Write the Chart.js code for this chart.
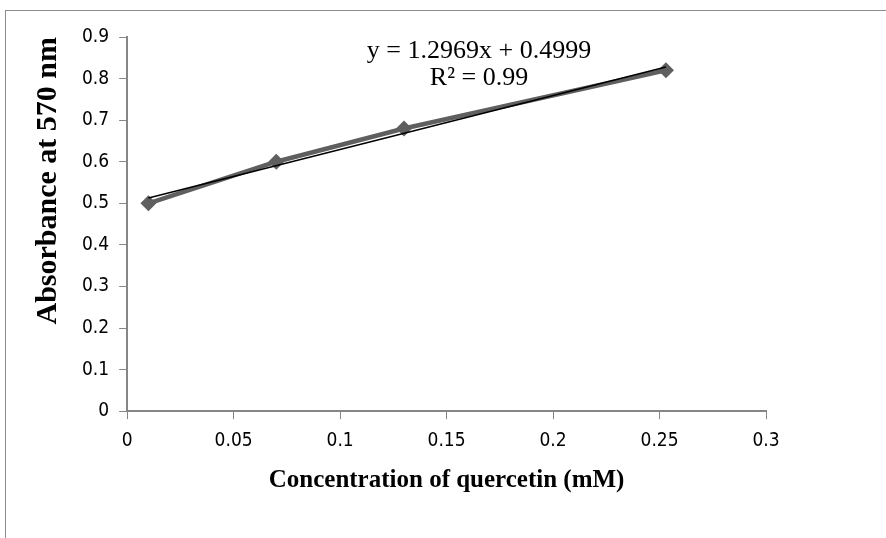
<!DOCTYPE html>
<html>
<head>
<meta charset="utf-8">
<script src="https://cdn.jsdelivr.net/npm/chart.js@4/dist/chart.umd.min.js"></script>
<style>
    body { margin: 0; background: #fff; }
    #frame { position: absolute; left: 5px; top: 10px; width: 900px; height: 560px; border: 1px solid #8c8c8c; }
    #wrap { position: absolute; left: 0; top: 0; width: 886px; height: 538px; }
</style>
</head>
<body>
<div id="frame"></div>
<div id="wrap"><canvas id="chart"></canvas></div>
<script>
// measured points
var concentration = [0.01, 0.07, 0.13, 0.253];
var absorbance = [0.5, 0.6, 0.68, 0.82];

// linear trendline end points (as drawn)
var trendX = [0.01, 0.253];
var trendY = [0.513, 0.828];

var xTicks = [0, 0.05, 0.1, 0.15, 0.2, 0.25, 0.3];
var yTicks = [0, 0.1, 0.2, 0.3, 0.4, 0.5, 0.6, 0.7, 0.8, 0.9];

var equationLines = ['y = 1.2969x + 0.4999', 'R\u00b2 = 0.99'];

var tickFont = { family: "'DejaVu Sans Condensed', 'Liberation Sans Narrow', 'Arial Narrow', sans-serif", size: 19 };
var xTitleFont = { family: "'Liberation Serif', 'Times New Roman', serif", size: 25, weight: 'bold' };
var yTitleFont = { family: "'Liberation Serif', 'Times New Roman', serif", size: 30, weight: 'bold' };

var equationPlugin = {
    id: 'equation',
    afterDatasetsDraw: function(chart)
    {
        var ctx = chart.ctx;
        ctx.save();
        ctx.fillStyle = '#000';
        ctx.font = "26px 'Liberation Serif', 'Times New Roman', serif";
        ctx.textAlign = 'center';
        ctx.textBaseline = 'middle';
        ctx.fillText(equationLines[0], 479, 51);
        ctx.fillText(equationLines[1], 479, 78);
        ctx.restore();
    }
};

function toPoints(xs, ys)
{
    var pts = [];
    xs.forEach(function(x, i) { pts.push({ x: x, y: ys[i] }); });
    return pts;
}

new Chart(document.getElementById('chart'), {
    type: 'scatter',
    data: {
        datasets: [
            {
                label: 'Trend',
                data: toPoints(trendX, trendY),
                showLine: true,
                borderColor: '#000',
                borderWidth: 1.5,
                pointRadius: 0,
                order: 0
            },
            {
                label: 'Absorbance',
                data: toPoints(concentration, absorbance),
                showLine: true,
                borderColor: '#5f5f5f',
                backgroundColor: '#5f5f5f',
                borderWidth: 4.5,
                pointStyle: 'rectRot',
                pointRadius: 8,
                pointBorderWidth: 0,
                order: 1
            }
        ]
    },
    options: {
        responsive: true,
        maintainAspectRatio: false,
        animation: false,
        layout: { padding: { left: 26, right: 120, top: 37, bottom: 38 } },
        plugins: { legend: { display: false }, tooltip: { enabled: false } },
        scales: {
            x: {
                type: 'linear',
                min: 0,
                max: 0.3,
                afterBuildTicks: function(axis) { axis.ticks = xTicks.map(function(v) { return { value: v }; }); },
                ticks: { color: '#000', font: tickFont, padding: 10, maxRotation: 0, callback: function(v) { return String(v); } },
                grid: { drawOnChartArea: false, color: '#868686', tickLength: 8, tickColor: '#868686' },
                border: { color: '#868686', width: 2 },
                title: { display: true, text: 'Concentration of quercetin (mM)', color: '#000', font: xTitleFont, padding: { top: 4 } }
            },
            y: {
                type: 'linear',
                min: 0,
                max: 0.9,
                afterBuildTicks: function(axis) { axis.ticks = yTicks.map(function(v) { return { value: v }; }); },
                ticks: { color: '#000', font: tickFont, padding: 10, callback: function(v) { return String(Math.round(v * 10) / 10); } },
                grid: { drawOnChartArea: false, color: '#868686', tickLength: 8, tickColor: '#868686' },
                border: { color: '#868686', width: 2 },
                title: { display: true, align: 'end', text: 'Absorbance at 570 nm', color: '#000', font: yTitleFont, padding: { bottom: 6 } }
            }
        }
    },
    plugins: [equationPlugin]
});
</script>
</body>
</html>
